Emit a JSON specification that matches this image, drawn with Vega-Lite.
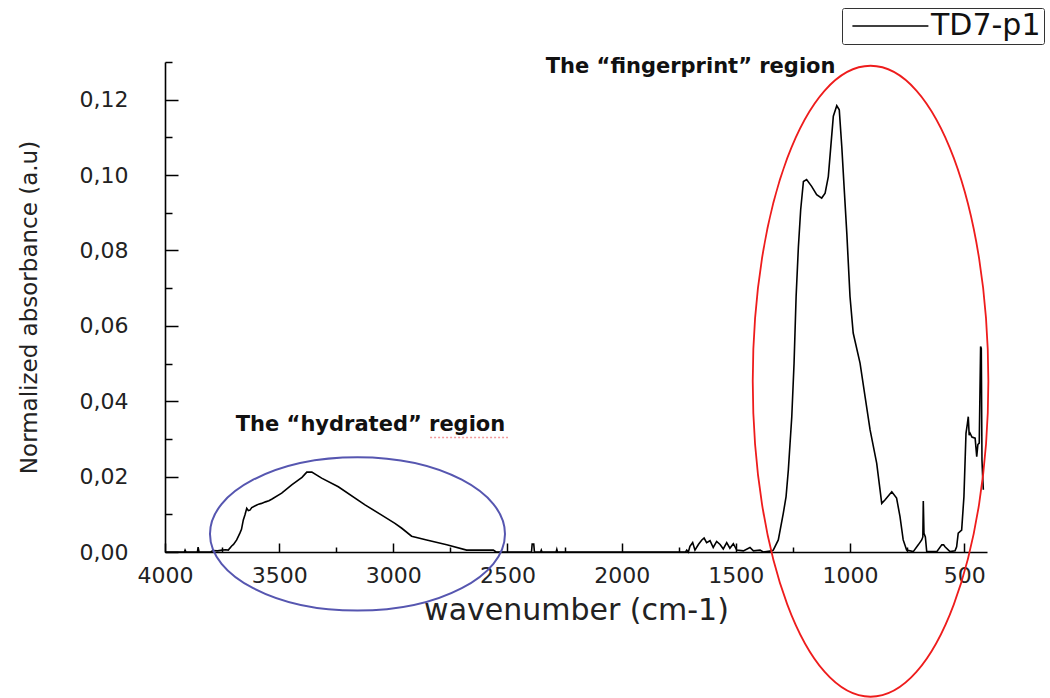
{
  "$schema": "https://vega.github.io/schema/vega-lite/v6.json",
  "width": 822,
  "height": 490,
  "autosize": {"type": "none"},
  "padding": {"left": 165, "top": 62, "right": 63, "bottom": 146},
  "background": "white",
  "config": {"view": {"stroke": null}, "font": "DejaVu Sans"},
  "datasets": {
    "spectrum": [
      {"wavenumber": 4000, "absorbance": 0, "series": "TD7-p1"},
      {"wavenumber": 3950, "absorbance": 0, "series": "TD7-p1"},
      {"wavenumber": 3915, "absorbance": 0, "series": "TD7-p1"},
      {"wavenumber": 3912, "absorbance": 0.0005, "series": "TD7-p1"},
      {"wavenumber": 3908, "absorbance": 0, "series": "TD7-p1"},
      {"wavenumber": 3858, "absorbance": 0, "series": "TD7-p1"},
      {"wavenumber": 3855, "absorbance": 0.0013, "series": "TD7-p1"},
      {"wavenumber": 3851, "absorbance": 0, "series": "TD7-p1"},
      {"wavenumber": 3800, "absorbance": 0, "series": "TD7-p1"},
      {"wavenumber": 3790, "absorbance": 0.0004, "series": "TD7-p1"},
      {"wavenumber": 3770, "absorbance": 0.0003, "series": "TD7-p1"},
      {"wavenumber": 3750, "absorbance": 0.0005, "series": "TD7-p1"},
      {"wavenumber": 3735, "absorbance": 0.0006, "series": "TD7-p1"},
      {"wavenumber": 3723, "absorbance": 0.0005, "series": "TD7-p1"},
      {"wavenumber": 3708, "absorbance": 0.0016, "series": "TD7-p1"},
      {"wavenumber": 3700, "absorbance": 0.0020, "series": "TD7-p1"},
      {"wavenumber": 3686, "absorbance": 0.0032, "series": "TD7-p1"},
      {"wavenumber": 3672, "absorbance": 0.0050, "series": "TD7-p1"},
      {"wavenumber": 3665, "absorbance": 0.0060, "series": "TD7-p1"},
      {"wavenumber": 3657, "absorbance": 0.0085, "series": "TD7-p1"},
      {"wavenumber": 3650, "absorbance": 0.0098, "series": "TD7-p1"},
      {"wavenumber": 3642, "absorbance": 0.0116, "series": "TD7-p1"},
      {"wavenumber": 3635, "absorbance": 0.0110, "series": "TD7-p1"},
      {"wavenumber": 3628, "absorbance": 0.0111, "series": "TD7-p1"},
      {"wavenumber": 3620, "absorbance": 0.0118, "series": "TD7-p1"},
      {"wavenumber": 3613, "absorbance": 0.0120, "series": "TD7-p1"},
      {"wavenumber": 3600, "absorbance": 0.0124, "series": "TD7-p1"},
      {"wavenumber": 3590, "absorbance": 0.0127, "series": "TD7-p1"},
      {"wavenumber": 3577, "absorbance": 0.0129, "series": "TD7-p1"},
      {"wavenumber": 3560, "absorbance": 0.0133, "series": "TD7-p1"},
      {"wavenumber": 3545, "absorbance": 0.0136, "series": "TD7-p1"},
      {"wavenumber": 3533, "absorbance": 0.0140, "series": "TD7-p1"},
      {"wavenumber": 3489, "absorbance": 0.0156, "series": "TD7-p1"},
      {"wavenumber": 3445, "absorbance": 0.0178, "series": "TD7-p1"},
      {"wavenumber": 3400, "absorbance": 0.0198, "series": "TD7-p1"},
      {"wavenumber": 3379, "absorbance": 0.0212, "series": "TD7-p1"},
      {"wavenumber": 3357, "absorbance": 0.0212, "series": "TD7-p1"},
      {"wavenumber": 3314, "absorbance": 0.0196, "series": "TD7-p1"},
      {"wavenumber": 3241, "absorbance": 0.0173, "series": "TD7-p1"},
      {"wavenumber": 3124, "absorbance": 0.0125, "series": "TD7-p1"},
      {"wavenumber": 3051, "absorbance": 0.0098, "series": "TD7-p1"},
      {"wavenumber": 2993, "absorbance": 0.0076, "series": "TD7-p1"},
      {"wavenumber": 2963, "absorbance": 0.0063, "series": "TD7-p1"},
      {"wavenumber": 2920, "absorbance": 0.0042, "series": "TD7-p1"},
      {"wavenumber": 2854, "absorbance": 0.0032, "series": "TD7-p1"},
      {"wavenumber": 2766, "absorbance": 0.0019, "series": "TD7-p1"},
      {"wavenumber": 2679, "absorbance": 0.0005, "series": "TD7-p1"},
      {"wavenumber": 2562, "absorbance": 0.0005, "series": "TD7-p1"},
      {"wavenumber": 2550, "absorbance": 0, "series": "TD7-p1"},
      {"wavenumber": 2395, "absorbance": 0, "series": "TD7-p1"},
      {"wavenumber": 2392, "absorbance": 0.0021, "series": "TD7-p1"},
      {"wavenumber": 2385, "absorbance": 0.0021, "series": "TD7-p1"},
      {"wavenumber": 2382, "absorbance": 0, "series": "TD7-p1"},
      {"wavenumber": 2355, "absorbance": 0, "series": "TD7-p1"},
      {"wavenumber": 2352, "absorbance": 0.0005, "series": "TD7-p1"},
      {"wavenumber": 2349, "absorbance": 0, "series": "TD7-p1"},
      {"wavenumber": 2287, "absorbance": 0, "series": "TD7-p1"},
      {"wavenumber": 2284, "absorbance": 0.0007, "series": "TD7-p1"},
      {"wavenumber": 2281, "absorbance": 0, "series": "TD7-p1"},
      {"wavenumber": 1720, "absorbance": 0, "series": "TD7-p1"},
      {"wavenumber": 1715, "absorbance": 0.0005, "series": "TD7-p1"},
      {"wavenumber": 1708, "absorbance": 0, "series": "TD7-p1"},
      {"wavenumber": 1701, "absorbance": 0.0015, "series": "TD7-p1"},
      {"wavenumber": 1689, "absorbance": 0.0025, "series": "TD7-p1"},
      {"wavenumber": 1679, "absorbance": 0.0005, "series": "TD7-p1"},
      {"wavenumber": 1664, "absorbance": 0.0020, "series": "TD7-p1"},
      {"wavenumber": 1649, "absorbance": 0.0032, "series": "TD7-p1"},
      {"wavenumber": 1639, "absorbance": 0.0037, "series": "TD7-p1"},
      {"wavenumber": 1628, "absorbance": 0.0025, "series": "TD7-p1"},
      {"wavenumber": 1613, "absorbance": 0.0030, "series": "TD7-p1"},
      {"wavenumber": 1599, "absorbance": 0.0012, "series": "TD7-p1"},
      {"wavenumber": 1584, "absorbance": 0.0028, "series": "TD7-p1"},
      {"wavenumber": 1569, "absorbance": 0.0020, "series": "TD7-p1"},
      {"wavenumber": 1555, "absorbance": 0.0008, "series": "TD7-p1"},
      {"wavenumber": 1540, "absorbance": 0.0025, "series": "TD7-p1"},
      {"wavenumber": 1526, "absorbance": 0.0010, "series": "TD7-p1"},
      {"wavenumber": 1511, "absorbance": 0.0022, "series": "TD7-p1"},
      {"wavenumber": 1496, "absorbance": 0.0005, "series": "TD7-p1"},
      {"wavenumber": 1467, "absorbance": 0.0003, "series": "TD7-p1"},
      {"wavenumber": 1438, "absorbance": 0.0012, "series": "TD7-p1"},
      {"wavenumber": 1423, "absorbance": 0.0003, "series": "TD7-p1"},
      {"wavenumber": 1394, "absorbance": 0.0005, "series": "TD7-p1"},
      {"wavenumber": 1380, "absorbance": 0, "series": "TD7-p1"},
      {"wavenumber": 1343, "absorbance": 0.0003, "series": "TD7-p1"},
      {"wavenumber": 1336, "absorbance": 0.0005, "series": "TD7-p1"},
      {"wavenumber": 1314, "absorbance": 0.0032, "series": "TD7-p1"},
      {"wavenumber": 1292, "absorbance": 0.0103, "series": "TD7-p1"},
      {"wavenumber": 1280, "absorbance": 0.0147, "series": "TD7-p1"},
      {"wavenumber": 1270, "absorbance": 0.0218, "series": "TD7-p1"},
      {"wavenumber": 1255, "absorbance": 0.0359, "series": "TD7-p1"},
      {"wavenumber": 1245, "absorbance": 0.0501, "series": "TD7-p1"},
      {"wavenumber": 1236, "absorbance": 0.0678, "series": "TD7-p1"},
      {"wavenumber": 1226, "absorbance": 0.0810, "series": "TD7-p1"},
      {"wavenumber": 1216, "absorbance": 0.0908, "series": "TD7-p1"},
      {"wavenumber": 1204, "absorbance": 0.0983, "series": "TD7-p1"},
      {"wavenumber": 1190, "absorbance": 0.0988, "series": "TD7-p1"},
      {"wavenumber": 1168, "absorbance": 0.0970, "series": "TD7-p1"},
      {"wavenumber": 1146, "absorbance": 0.0948, "series": "TD7-p1"},
      {"wavenumber": 1124, "absorbance": 0.0939, "series": "TD7-p1"},
      {"wavenumber": 1109, "absorbance": 0.0952, "series": "TD7-p1"},
      {"wavenumber": 1095, "absorbance": 0.0996, "series": "TD7-p1"},
      {"wavenumber": 1084, "absorbance": 0.1076, "series": "TD7-p1"},
      {"wavenumber": 1073, "absorbance": 0.1156, "series": "TD7-p1"},
      {"wavenumber": 1058, "absorbance": 0.1184, "series": "TD7-p1"},
      {"wavenumber": 1047, "absorbance": 0.1173, "series": "TD7-p1"},
      {"wavenumber": 1036, "absorbance": 0.1076, "series": "TD7-p1"},
      {"wavenumber": 1026, "absorbance": 0.0970, "series": "TD7-p1"},
      {"wavenumber": 1014, "absorbance": 0.0846, "series": "TD7-p1"},
      {"wavenumber": 1000, "absorbance": 0.0678, "series": "TD7-p1"},
      {"wavenumber": 986, "absorbance": 0.0581, "series": "TD7-p1"},
      {"wavenumber": 956, "absorbance": 0.0501, "series": "TD7-p1"},
      {"wavenumber": 934, "absorbance": 0.0412, "series": "TD7-p1"},
      {"wavenumber": 912, "absorbance": 0.0324, "series": "TD7-p1"},
      {"wavenumber": 883, "absorbance": 0.0235, "series": "TD7-p1"},
      {"wavenumber": 861, "absorbance": 0.0129, "series": "TD7-p1"},
      {"wavenumber": 847, "absorbance": 0.0138, "series": "TD7-p1"},
      {"wavenumber": 817, "absorbance": 0.0160, "series": "TD7-p1"},
      {"wavenumber": 796, "absorbance": 0.0143, "series": "TD7-p1"},
      {"wavenumber": 781, "absorbance": 0.0094, "series": "TD7-p1"},
      {"wavenumber": 767, "absorbance": 0.0032, "series": "TD7-p1"},
      {"wavenumber": 752, "absorbance": 0.0005, "series": "TD7-p1"},
      {"wavenumber": 723, "absorbance": 0.0001, "series": "TD7-p1"},
      {"wavenumber": 701, "absorbance": 0.0019, "series": "TD7-p1"},
      {"wavenumber": 686, "absorbance": 0.0032, "series": "TD7-p1"},
      {"wavenumber": 681, "absorbance": 0.0040, "series": "TD7-p1"},
      {"wavenumber": 679, "absorbance": 0.0135, "series": "TD7-p1"},
      {"wavenumber": 676, "absorbance": 0.0050, "series": "TD7-p1"},
      {"wavenumber": 670, "absorbance": 0.0040, "series": "TD7-p1"},
      {"wavenumber": 664, "absorbance": 0.0001, "series": "TD7-p1"},
      {"wavenumber": 620, "absorbance": 0.0001, "series": "TD7-p1"},
      {"wavenumber": 598, "absorbance": 0.0019, "series": "TD7-p1"},
      {"wavenumber": 590, "absorbance": 0.0019, "series": "TD7-p1"},
      {"wavenumber": 584, "absorbance": 0.0014, "series": "TD7-p1"},
      {"wavenumber": 562, "absorbance": 0.0001, "series": "TD7-p1"},
      {"wavenumber": 540, "absorbance": 0.0003, "series": "TD7-p1"},
      {"wavenumber": 533, "absorbance": 0.0014, "series": "TD7-p1"},
      {"wavenumber": 526, "absorbance": 0.0050, "series": "TD7-p1"},
      {"wavenumber": 511, "absorbance": 0.0058, "series": "TD7-p1"},
      {"wavenumber": 501, "absorbance": 0.0147, "series": "TD7-p1"},
      {"wavenumber": 492, "absorbance": 0.0315, "series": "TD7-p1"},
      {"wavenumber": 486, "absorbance": 0.0340, "series": "TD7-p1"},
      {"wavenumber": 482, "absorbance": 0.0359, "series": "TD7-p1"},
      {"wavenumber": 478, "absorbance": 0.0310, "series": "TD7-p1"},
      {"wavenumber": 474, "absorbance": 0.0315, "series": "TD7-p1"},
      {"wavenumber": 466, "absorbance": 0.0305, "series": "TD7-p1"},
      {"wavenumber": 452, "absorbance": 0.0302, "series": "TD7-p1"},
      {"wavenumber": 445, "absorbance": 0.0253, "series": "TD7-p1"},
      {"wavenumber": 440, "absorbance": 0.0285, "series": "TD7-p1"},
      {"wavenumber": 434, "absorbance": 0.0289, "series": "TD7-p1"},
      {"wavenumber": 428, "absorbance": 0.0545, "series": "TD7-p1"},
      {"wavenumber": 425, "absorbance": 0.0540, "series": "TD7-p1"},
      {"wavenumber": 422, "absorbance": 0.0244, "series": "TD7-p1"},
      {"wavenumber": 419, "absorbance": 0.0200, "series": "TD7-p1"},
      {"wavenumber": 416, "absorbance": 0.0165, "series": "TD7-p1"}
    ],
    "hydrated": [{"wavenumber": 3157, "absorbance": 0.0048}],
    "fingerprint": [{"wavenumber": 910, "absorbance": 0.0453}],
    "notes": [
      {"wavenumber": 3100, "absorbance": 0.0337, "note": "The “hydrated” region"},
      {"wavenumber": 1698, "absorbance": 0.1288, "note": "The “fingerprint” region"}
    ],
    "squiggle": [{"from": 2839, "to": 2498, "absorbance": 0.0304}]
  },
  "layer": [
    {
      "data": {"name": "spectrum"},
      "mark": {"type": "line", "strokeWidth": 1.6},
      "encoding": {
        "x": {
          "field": "wavenumber", "type": "quantitative",
          "scale": {"domain": [400, 4000], "reverse": true, "nice": false, "zero": false},
          "axis": {
            "title": "wavenumber (cm-1)",
            "values": [4000, 3500, 3000, 2500, 2000, 1500, 1000, 500],
            "format": "d", "grid": false,
            "tickSize": -9, "tickWidth": 1.5, "tickColor": "black",
            "domainColor": "black", "domainWidth": 1.6,
            "labelFont": "DejaVu Sans", "labelFontSize": 22, "labelColor": "#222",
            "labelPadding": 22, "labelFlush": false, "labelOverlap": false,
            "titleFont": "DejaVu Sans", "titleFontSize": 30, "titleFontWeight": "normal",
            "titleColor": "#222", "titlePadding": 9
          }
        },
        "y": {
          "field": "absorbance", "type": "quantitative",
          "scale": {"domain": [0, 0.13], "nice": false},
          "axis": {
            "title": "Normalized absorbance (a.u)",
            "values": [0, 0.02, 0.04, 0.06, 0.08, 0.1, 0.12],
            "labelExpr": "replace(format(datum.value, '.2f'), '.', ',')",
            "grid": false,
            "tickSize": -13, "tickWidth": 1.5, "tickColor": "black",
            "domainColor": "black", "domainWidth": 1.6,
            "labelFont": "DejaVu Sans", "labelFontSize": 22, "labelColor": "#222",
            "labelPadding": 50, "labelFlush": false, "labelOverlap": false,
            "titleFont": "DejaVu Sans", "titleFontSize": 23, "titleFontWeight": "normal",
            "titleColor": "#222", "titlePadding": 38
          }
        },
        "color": {
          "field": "series", "type": "nominal",
          "scale": {"range": ["black"]},
          "legend": {
            "title": null, "orient": "none", "legendX": 677, "legendY": -54,
            "symbolType": "M-1,0L9,0", "symbolSize": 231, "symbolStrokeWidth": 1.5,
            "labelFont": "DejaVu Sans", "labelFontSize": 30, "labelColor": "#111",
            "labelExpr": "datum.label + '   '",
            "labelOffset": 56, "padding": 3, "strokeColor": "#333", "cornerRadius": 2
          }
        }
      }
    },
    {
      "data": {"name": "hydrated"},
      "mark": {
        "type": "point", "filled": false, "opacity": 1,
        "shape": "M1,0C1,0.2872,0.5523,0.52,0,0.52C-0.5523,0.52,-1,0.2872,-1,0C-1,-0.2872,-0.5523,-0.52,0,-0.52C0.5523,-0.52,1,-0.2872,1,0Z",
        "size": 87025, "stroke": "#5656b0", "strokeWidth": 2
      },
      "encoding": {
        "x": {
          "field": "wavenumber", "type": "quantitative",
          "axis": {
            "orient": "bottom", "title": null, "labels": false, "domain": false, "grid": false,
            "values": [3750, 3250, 2750, 2250, 1750, 1250, 750],
            "tickSize": -5, "tickWidth": 1.5, "tickColor": "black"
          }
        },
        "y": {
          "field": "absorbance", "type": "quantitative",
          "axis": {
            "orient": "left", "title": null, "labels": false, "domain": false, "grid": false,
            "values": [0.01, 0.03, 0.05, 0.07, 0.09, 0.11, 0.13],
            "tickSize": -7, "tickWidth": 1.5, "tickColor": "black"
          }
        }
      }
    },
    {
      "data": {"name": "fingerprint"},
      "mark": {
        "type": "point", "filled": false, "opacity": 1,
        "shape": "M0.3734,0C0.3734,0.5523,0.2062,1,0,1C-0.2062,1,-0.3734,0.5523,-0.3734,0C-0.3734,-0.5523,-0.2062,-1,0,-1C0.2062,-1,0.3734,-0.5523,0.3734,0Z",
        "size": 398161, "stroke": "#ee1c1c", "strokeWidth": 1.8
      },
      "encoding": {
        "x": {"field": "wavenumber", "type": "quantitative", "axis": null},
        "y": {"field": "absorbance", "type": "quantitative", "axis": null}
      }
    },
    {
      "data": {"name": "squiggle"},
      "mark": {"type": "rule", "stroke": "#f19a9a", "strokeWidth": 1.5, "strokeDash": [2, 2]},
      "encoding": {
        "x": {"field": "from", "type": "quantitative", "axis": null},
        "x2": {"field": "to"},
        "y": {"field": "absorbance", "type": "quantitative", "axis": null}
      }
    },
    {
      "data": {"name": "notes"},
      "mark": {
        "type": "text", "font": "DejaVu Sans", "fontWeight": "bold", "fontSize": 21,
        "align": "center", "baseline": "middle", "color": "#111"
      },
      "encoding": {
        "x": {"field": "wavenumber", "type": "quantitative", "axis": null},
        "y": {"field": "absorbance", "type": "quantitative", "axis": null},
        "text": {"field": "note"}
      }
    }
  ],
  "resolve": {"axis": {"x": "independent", "y": "independent"}}
}
